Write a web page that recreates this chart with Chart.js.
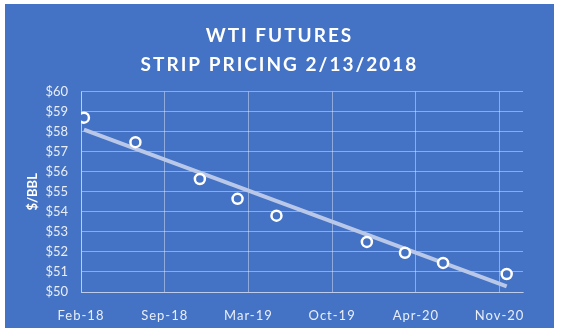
<!DOCTYPE html>
<html>
<head>
<meta charset="utf-8">
<script src="https://cdn.jsdelivr.net/npm/chart.js@4/dist/chart.umd.min.js"></script>
<style>
  html, body { margin: 0; padding: 0; background: #ffffff; }
  #wrap { position: absolute; left: 5px; top: 4px; width: 549px; height: 324px; }
  #chart { background: #4472c4; }
</style>
</head>
<body>
<div id="wrap"><canvas id="chart" width="549" height="324"></canvas></div>
<script>
// days after 2/13/2018 (x) and $/bbl (y)
const stripDays = [7, 130, 284, 374, 467, 683, 774, 865, 1017];
const stripPrices = [58.70, 57.48, 55.64, 54.65, 53.81, 52.50, 51.96, 51.45, 50.90];

// linear trendline end points
const trendDays = [7, 1017];
const trendPrices = [58.10, 50.28];

// x ticks every 200 days
const xTickLabels = ['Feb-18', 'Sep-18', 'Mar-19', 'Oct-19', 'Apr-20', 'Nov-20'];
const titleLines = ['WTI FUTURES', 'STRIP PRICING 2/13/2018'];

const BLUE = '#4472c4';
const GRID = 'rgba(255,255,255,0.4)';
const LABEL = 'rgba(255,255,255,0.88)';
const FONT = 'Lato, "Open Sans", sans-serif';

// letter spacing for title and x labels (canvas ctx.letterSpacing)
const spacingPlugin = {
  id: 'spacing',
  beforeDraw(chart) {
    const wrap = (obj, fn, spacing) => {
      if (!obj || obj['_wrapped_' + fn]) return;
      const orig = obj[fn];
      obj[fn] = function(...args) {
        const ctx = chart.ctx;
        const prev = ctx.letterSpacing;
        ctx.letterSpacing = spacing;
        orig.apply(this, args);
        ctx.letterSpacing = prev;
      };
      obj['_wrapped_' + fn] = true;
    };
    wrap(chart.titleBlock, 'draw', '2px');
    wrap(chart.scales.x, 'drawLabels', '1px');
  }
};

new Chart(document.getElementById('chart'), {
  type: 'scatter',
  data: {
    datasets: [
      {
        label: 'Strip',
        data: stripDays.map((d, i) => ({ x: d, y: stripPrices[i] })),
        pointRadius: 5,
        pointBorderWidth: 2.5,
        pointBorderColor: '#ffffff',
        pointBackgroundColor: BLUE
      },
      {
        label: 'Trend',
        data: trendDays.map((d, i) => ({ x: d, y: trendPrices[i] })),
        showLine: true,
        borderColor: '#b9c8e8',
        borderWidth: 4,
        pointRadius: 0
      }
    ]
  },
  options: {
    responsive: false,
    devicePixelRatio: 1,
    animation: false,
    layout: { padding: { top: 0, right: 0, bottom: 6, left: 0 } },
    plugins: {
      legend: { display: false },
      tooltip: { enabled: false },
      title: {
        display: true,
        text: titleLines,
        color: '#ffffff',
        font: { family: FONT, weight: 'bold', size: 19, lineHeight: 1.53 },
        padding: { top: 17.5, bottom: 12 }
      }
    },
    scales: {
      x: {
        type: 'linear',
        min: 0,
        max: 1056,
        // one tick per label, 200 days apart
        afterBuildTicks: (scale) => {
          scale.ticks = xTickLabels.map((_, i) => ({ value: i * 200 }));
        },
        afterFit: (scale) => { scale.height = 30; },
        ticks: {
          color: LABEL,
          font: { family: FONT, size: 13 },
          padding: 16,
          maxRotation: 0,
          autoSkip: false,
          callback: (v) => xTickLabels[Math.round(v / 200)]
        },
        grid: { color: GRID, drawTicks: false },
        border: { color: GRID }
      },
      y: {
        min: 50,
        max: 60,
        afterFit: (scale) => { scale.width = 76; },
        ticks: {
          stepSize: 1,
          color: LABEL,
          font: { family: FONT, size: 13 },
          padding: 13,
          callback: (v) => '$' + v
        },
        grid: { color: GRID, drawTicks: false },
        border: { color: GRID },
        title: {
          display: true,
          text: '$/BBL',
          color: '#ffffff',
          font: { family: FONT, weight: 'bold', size: 13 },
          padding: { top: 20, bottom: 0 }
        }
      },
      // empty right margin so the title stays centred on the whole panel
      yRight: {
        position: 'right',
        min: 0,
        max: 1,
        afterFit: (scale) => { scale.width = 31; },
        ticks: { display: false },
        grid: { display: false },
        border: { display: false }
      }
    }
  },
  plugins: [spacingPlugin]
});
</script>
</body>
</html>
